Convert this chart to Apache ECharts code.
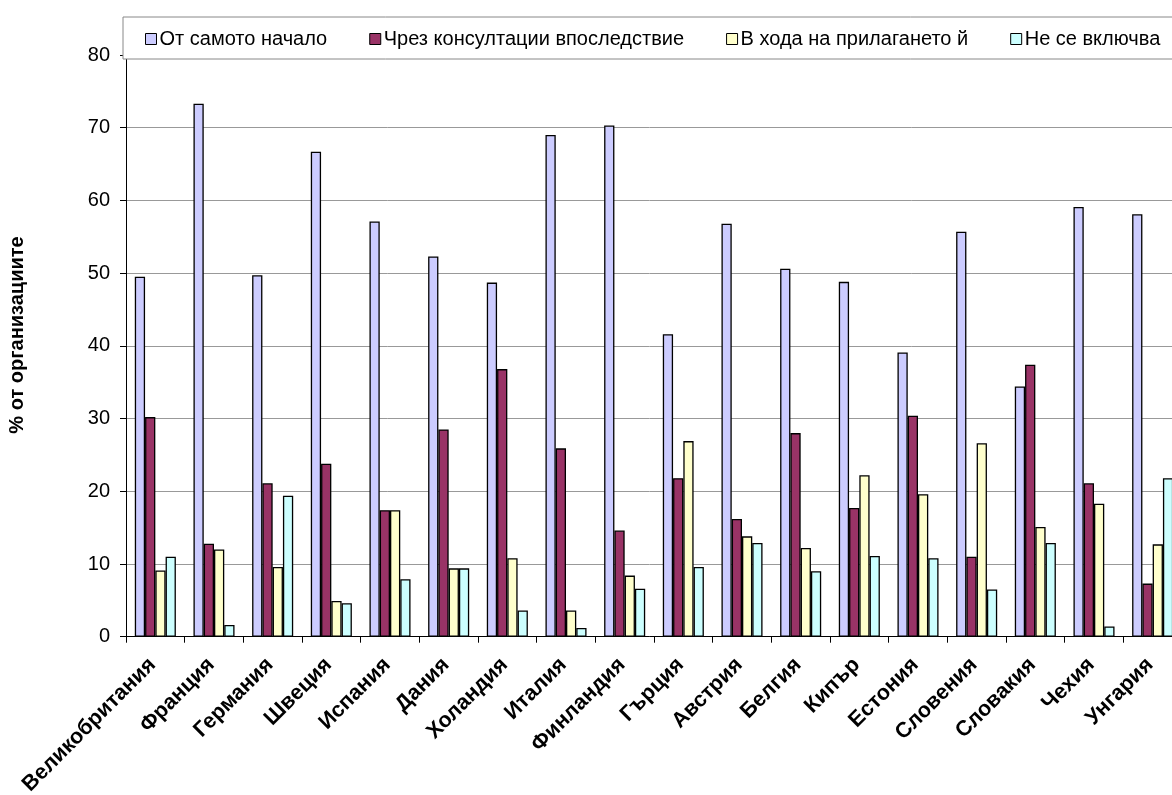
<!DOCTYPE html>
<html>
<head>
<meta charset="utf-8">
<script src="https://cdn.jsdelivr.net/npm/echarts@6/dist/echarts.min.js"></script>
<style>
  html, body { margin: 0; padding: 0; background: #fff; }
  #chart { width: 1172px; height: 795px; }
</style>
</head>
<body>
<div id="chart"></div>
<script>
// Countries along the category axis
const countries = ['Великобритания', 'Франция', 'Германия', 'Швеция', 'Испания', 'Дания',
  'Холандия', 'Италия', 'Финландия', 'Гърция', 'Австрия', 'Белгия', 'Кипър', 'Естония',
  'Словения', 'Словакия', 'Чехия', 'Унгария'];

// Share of organisations (%) per answer
const fromStart    = [49.5, 73.3, 49.7, 66.7, 57.1, 52.3, 48.7, 69.0, 70.3, 41.6, 56.8, 50.6, 48.8, 39.1, 55.7, 34.4, 59.1, 58.1];
const laterConsult = [30.2, 12.8, 21.1, 23.8, 17.4, 28.5, 36.8, 25.9, 14.6, 21.8, 16.2, 28.0, 17.7, 30.4, 11.0, 37.4, 21.1, 7.3];
const duringImpl   = [9.1, 12.0, 9.6, 4.9, 17.4, 9.4, 10.8, 3.6, 8.4, 26.9, 13.8, 12.2, 22.2, 19.6, 26.6, 15.1, 18.3, 12.7];
const notIncluded  = [11.0, 1.6, 19.4, 4.6, 7.9, 9.4, 3.6, 1.2, 6.6, 9.6, 12.9, 9.0, 11.1, 10.8, 6.5, 12.9, 1.4, 21.8];

const seriesNames = ['От самото начало', 'Чрез консултации впоследствие', 'В хода на прилагането й', 'Не се включва'];
const seriesColors = ['#CCCCFF', '#993366', '#FFFFCC', '#CCFFFF'];
const seriesData = [fromStart, laterConsult, duringImpl, notIncluded];

// Value axis ticks
const yMin = 0, yMax = 80, yStep = 10;

const FONT = '"Liberation Sans", Arial, sans-serif';

const chart = echarts.init(document.getElementById('chart'), null, { renderer: 'canvas' });

chart.setOption({
  animation: false,
  backgroundColor: '#fff',
  textStyle: { fontFamily: FONT, color: '#000' },
  legend: {
    left: 123,
    top: 17,
    width: 1200,
    padding: [12, 40, 10, 22],
    itemGap: 42,
    itemWidth: 11,
    itemHeight: 11,
    icon: 'rect',
    backgroundColor: '#fff',
    borderColor: '#888',
    borderWidth: 1,
    itemStyle: { borderColor: '#000', borderWidth: 1 },
    textStyle: { fontFamily: FONT, fontSize: 20, color: '#000', padding: [0, 0, 0, -2] },
    data: seriesNames
  },
  grid: {
    left: 126, top: 55, width: 1056, height: 581.7,
    containLabel: false,
    outerBoundsMode: 'none'
  },
  xAxis: {
    type: 'category',
    data: countries,
    boundaryGap: true,
    axisLine: { lineStyle: { color: '#000', width: 1 } },
    axisTick: { show: true, length: 6, lineStyle: { color: '#000' } },
    axisLabel: {
      rotate: 45,
      interval: 0,
      margin: 22,
      padding: [0, 4, 0, 0],
      fontFamily: FONT,
      fontSize: 21.5,
      fontWeight: 'bold',
      color: '#000'
    },
    splitLine: { show: false }
  },
  yAxis: {
    type: 'value',
    min: yMin,
    max: yMax,
    interval: yStep,
    axisLine: { show: true, lineStyle: { color: '#000', width: 1 } },
    axisTick: { show: true, length: 6, lineStyle: { color: '#000' } },
    axisLabel: { margin: 16, fontFamily: FONT, fontSize: 20, color: '#000' },
    splitLine: { show: true, lineStyle: { color: '#999', width: 1 } }
  },
  graphic: [{
    type: 'text',
    x: 17,
    y: 335,
    rotation: Math.PI / 2,
    style: {
      text: '% от организациите',
      fontFamily: FONT,
      fontSize: 20,
      fontWeight: 'bold',
      fill: '#000',
      align: 'center',
      verticalAlign: 'middle'
    }
  }],
  series: seriesNames.map((name, i) => ({
    name: name,
    type: 'bar',
    data: seriesData[i],
    barGap: '0%',
    barCategoryGap: '30%',
    itemStyle: { color: seriesColors[i], borderColor: '#000', borderWidth: 1.3 }
  }))
});
</script>
</body>
</html>
